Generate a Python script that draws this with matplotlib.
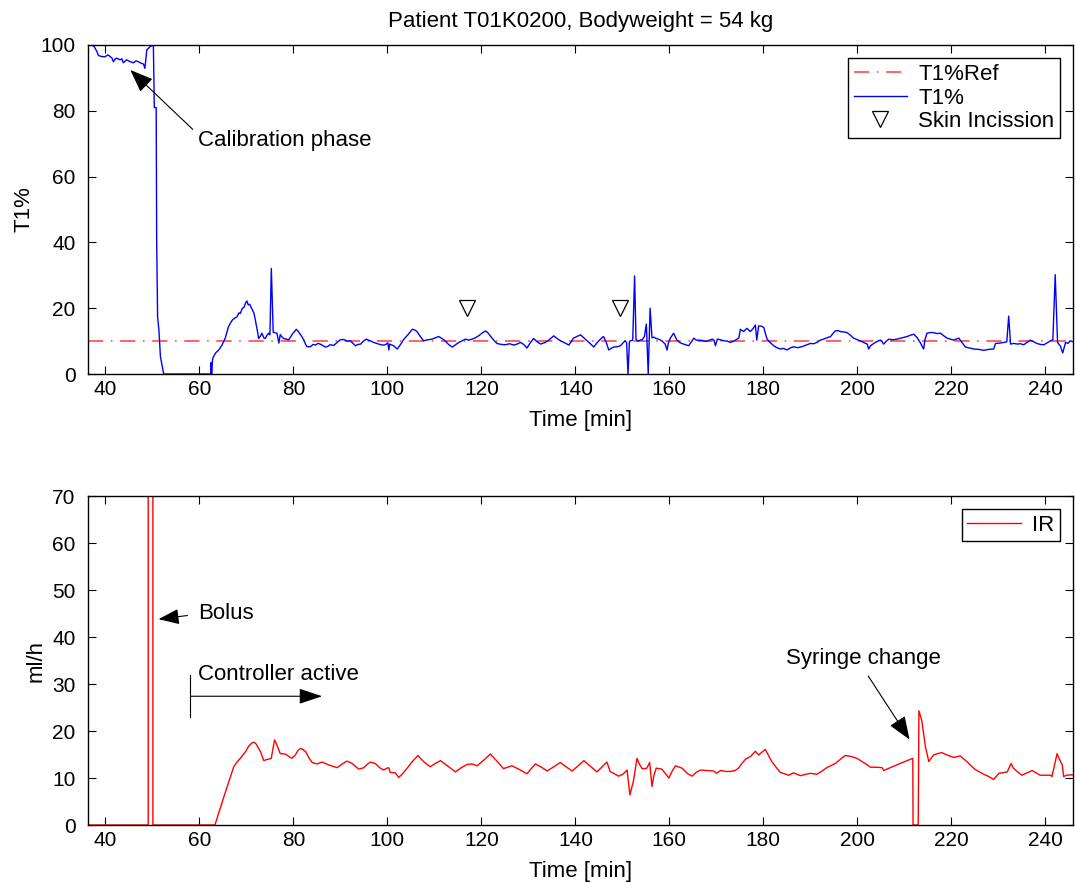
import matplotlib
matplotlib.use("Agg")
import matplotlib.pyplot as plt

plt.rcParams["font.family"] = ["Liberation Sans", "DejaVu Sans"]
plt.rcParams["font.size"] = 16

# ---- data ----
t1_time = [
    37.2, 37.6, 38.2, 38.5, 39.2, 39.9, 40.5, 41.0, 41.4, 41.7, 42.1, 42.4, 43.1, 43.5,
    43.8, 44.5, 45.3, 46.0, 46.5, 47.0, 47.7, 48.1, 48.4, 48.8, 49.5, 50.2, 50.4, 50.8,
    50.9, 51.1, 51.4, 51.7, 52.0, 52.4, 62.4, 62.5, 62.6, 62.8, 63.0, 63.5, 64.1, 64.8,
    65.5, 65.8, 66.2, 66.6, 67.0, 67.5, 68.0, 68.4, 68.7, 69.1, 69.5, 69.8, 70.1, 70.4,
    70.7, 71.2, 71.6, 71.9, 72.3, 72.6, 73.0, 73.3, 73.7, 74.0, 74.4, 74.7, 75.0, 75.3,
    75.7, 76.2, 76.5, 76.9, 77.2, 77.6, 77.9, 78.5, 79.0, 79.5, 79.9, 80.3, 80.6, 81.0,
    81.5, 82.2, 82.6, 82.9, 83.6, 84.2, 84.7, 85.2, 85.7, 86.3, 86.8, 87.2, 87.8, 88.6,
    89.3, 90.0, 90.7, 91.4, 92.1, 92.7, 93.2, 93.8, 94.3, 94.9, 95.5, 96.3, 97.1, 97.9,
    98.9, 99.6, 100.1, 100.3, 100.5, 101.3, 102.1, 102.8, 103.5, 104.4, 105.3, 105.8,
    106.3, 107.0, 107.7, 108.6, 109.5, 110.2, 110.9, 111.6, 112.3, 113.0, 113.8, 114.5,
    115.2, 115.9, 116.6, 117.3, 118.0, 118.7, 119.4, 120.2, 120.9, 121.4, 121.9, 122.6,
    123.3, 124.2, 125.1, 126.0, 126.9, 127.6, 128.3, 129.0, 129.7, 130.4, 131.1, 131.8,
    132.6, 133.6, 134.5, 135.4, 136.1, 136.8, 137.7, 138.6, 139.1, 139.6, 140.3, 141.1,
    141.8, 142.5, 143.2, 143.9, 144.5, 145.0, 145.5, 146.0, 146.6, 147.1, 147.6, 148.2,
    148.9, 149.6, 150.1, 150.6, 150.9, 151.2, 151.5, 151.7, 152.2, 152.6, 152.9, 153.4,
    153.9, 154.2, 154.7, 155.1, 155.5, 155.9, 156.3, 156.7, 157.2, 157.7, 158.4, 159.1,
    159.5, 159.8, 160.2, 160.9, 161.6, 162.3, 163.0, 164.1, 164.7, 165.2, 165.7, 166.2,
    167.0, 167.7, 168.4, 169.1, 169.5, 169.8, 170.2, 170.9, 171.6, 172.3, 173.0, 173.7,
    174.4, 174.8, 175.1, 175.4, 175.8, 176.5, 177.2, 177.8, 178.3, 178.6, 179.0, 179.5,
    180.1, 180.4, 180.8, 181.5, 182.2, 182.9, 183.6, 184.3, 185.0, 185.7, 186.4, 187.3,
    188.2, 189.1, 190.0, 190.7, 191.4, 192.1, 192.8, 193.5, 194.3, 194.8, 195.3, 195.9,
    196.4, 197.1, 197.8, 198.5, 199.2, 199.9, 200.6, 201.3, 202.1, 202.4, 202.8, 203.5,
    204.2, 204.9, 205.3, 205.6, 206.1, 206.7, 207.5, 208.4, 209.5, 210.6, 211.3, 212.0,
    212.7, 213.4, 214.1, 214.4, 214.8, 215.5, 216.2, 216.9, 217.7, 218.4, 219.1, 219.8,
    220.5, 221.0, 221.6, 222.3, 223.0, 223.9, 224.8, 225.8, 226.9, 228.0, 229.0, 229.4,
    230.3, 231.2, 231.8, 232.2, 232.6, 233.3, 234.0, 234.7, 235.4, 236.1, 236.8, 237.5,
    238.2, 238.9, 239.7, 240.4, 241.1, 241.6, 242.1, 242.6, 243.2, 243.7, 244.0, 244.3,
    244.8, 245.3, 245.9,
]
t1_value = [
    100.0, 99.5, 98.0, 96.8, 96.5, 96.4, 97.0, 96.5, 96.0, 94.9, 95.8, 96.0, 95.5, 95.8,
    94.6, 95.5, 94.9, 94.6, 95.2, 94.9, 94.4, 94.2, 92.9, 98.5, 99.5, 100.0, 81.0, 81.0,
    41.0, 17.4, 13.0, 5.3, 3.0, 0.0, 0.0, 3.5, 0.0, 4.5, 5.3, 6.5, 7.3, 8.8,
    10.9, 12.5, 14.4, 15.5, 16.4, 17.0, 17.4, 18.6, 18.4, 19.9, 20.3, 21.5, 22.2, 21.0,
    21.2, 19.7, 18.5, 16.4, 13.4, 10.8, 11.6, 12.4, 11.0, 10.8, 11.8, 12.4, 11.9, 32.1,
    12.7, 12.5, 12.4, 9.4, 12.0, 11.2, 10.8, 10.6, 10.4, 11.5, 12.4, 13.0, 13.6, 13.0,
    12.0, 10.4, 9.0, 8.3, 8.3, 9.0, 8.8, 9.3, 9.1, 8.6, 8.2, 8.3, 8.9, 8.7,
    9.6, 10.4, 10.5, 10.0, 10.1, 9.3, 8.6, 9.0, 9.1, 10.0, 10.6, 10.1, 9.6, 9.2,
    8.8, 8.9, 9.5, 7.3, 9.1, 8.6, 7.6, 9.0, 10.6, 12.0, 13.6, 13.4,
    12.9, 11.4, 10.1, 10.4, 10.6, 11.0, 11.4, 10.8, 10.1, 9.0, 8.2, 8.9,
    9.6, 10.1, 10.6, 10.3, 10.6, 11.0, 11.6, 12.5, 13.1, 12.5, 11.6, 10.3,
    9.3, 9.0, 8.9, 9.2, 8.8, 9.1, 9.6, 9.0, 7.9, 9.5, 10.8, 9.9,
    9.1, 9.6, 10.5, 11.6, 10.8, 10.1, 9.5, 8.8, 9.8, 10.9, 11.4, 11.9,
    11.0, 10.1, 9.2, 8.2, 9.3, 10.1, 10.8, 11.4, 9.5, 7.3, 7.8, 8.2,
    8.3, 8.6, 9.4, 10.1, 9.5, 0.0, 9.8, 10.1, 10.3, 29.8, 10.5, 10.0,
    10.4, 10.3, 11.5, 15.2, 0.0, 20.0, 11.0, 11.2, 10.8, 10.6, 10.1, 9.1,
    7.3, 9.5, 10.9, 12.4, 10.3, 9.5, 9.1, 8.6, 9.8, 10.9, 10.3, 10.3,
    10.2, 9.9, 10.2, 10.6, 10.3, 8.6, 10.6, 10.4, 10.1, 10.0, 9.6, 10.0,
    10.6, 11.0, 13.6, 13.3, 12.9, 13.9, 12.9, 13.8, 14.9, 10.3, 14.6, 14.6,
    14.1, 12.5, 10.6, 9.5, 8.6, 8.0, 7.6, 7.8, 7.3, 7.9, 8.3, 8.0,
    8.3, 8.8, 9.3, 9.2, 9.6, 10.3, 10.6, 11.0, 11.4, 12.3, 13.1, 13.2,
    12.9, 12.8, 12.6, 11.8, 10.9, 10.5, 10.1, 9.6, 9.1, 7.6, 8.6, 9.3,
    9.9, 10.3, 9.7, 9.1, 9.9, 10.6, 10.4, 10.6, 11.0, 11.4, 11.8, 12.1,
    11.1, 9.5, 7.6, 10.5, 12.4, 12.6, 12.6, 12.3, 12.4, 11.6, 10.9, 10.6,
    10.3, 10.6, 10.9, 9.5, 8.2, 7.9, 7.6, 7.5, 7.2, 7.5, 7.6, 9.3,
    9.4, 9.6, 9.8, 17.6, 9.1, 9.3, 9.1, 9.2, 8.9, 9.6, 10.3, 9.8,
    9.3, 9.0, 8.9, 9.5, 10.1, 10.4, 30.2, 9.6, 8.5, 6.4, 8.0, 9.6,
    9.3, 10.1, 9.8,
]
t1_ref = 10
incision_time = [117.0, 149.5]
incision_value = [20, 20]

ir_time = [
    36.3, 49.1, 49.1, 50.1, 50.1, 63.3, 65.2, 67.3, 68.0, 68.7, 69.8, 70.5, 71.2, 71.7,
    72.1, 73.0, 73.7, 74.2, 74.7, 75.3, 75.6, 76.0, 76.5, 77.2, 78.3, 79.0, 79.7, 80.4,
    81.0, 81.5, 82.0, 82.6, 83.3, 84.0, 85.0, 86.1, 87.5, 88.4, 89.3, 90.4, 91.4, 92.5,
    93.3, 93.9, 95.0, 95.8, 96.4, 97.4, 98.5, 99.2, 99.9, 100.3, 100.6, 101.7, 102.4,
    103.3, 104.2, 105.3, 106.5, 107.7, 109.1, 110.2, 111.3, 112.9, 114.5, 115.7, 117.0,
    118.0, 119.1, 120.5, 121.9, 123.3, 124.7, 125.6, 126.5, 128.1, 129.7, 130.6, 131.5,
    132.8, 134.0, 135.4, 136.8, 138.0, 139.3, 140.6, 141.8, 143.2, 144.6, 145.6, 146.7,
    147.4, 148.3, 149.2, 150.1, 151.0, 151.6, 152.0, 152.4, 153.1, 153.6, 154.2, 154.7,
    155.2, 155.8, 156.3, 156.7, 157.2, 158.4, 159.1, 159.9, 160.6, 161.3, 162.7, 163.8,
    164.8, 165.7, 166.6, 168.0, 169.4, 170.0, 170.9, 172.0, 173.0, 174.0, 174.7, 175.5,
    176.2, 177.3, 178.3, 179.0, 180.4, 181.1, 181.8, 182.7, 183.6, 184.5, 185.4, 186.4,
    187.9, 189.0, 190.0, 191.4, 192.5, 193.5, 195.3, 196.4, 197.4, 198.6, 199.9, 201.0,
    202.1, 202.8, 204.0, 205.3, 205.6, 207.0, 208.4, 210.1, 211.8, 211.85, 212.95, 213.1,
    213.7, 214.5, 215.2, 216.2, 217.1, 218.0, 219.1, 220.5, 221.9, 223.3, 224.2, 225.1,
    226.9, 228.0, 229.0, 230.1, 231.9, 232.7, 233.2, 234.1, 235.0, 236.1, 237.2, 238.9,
    240.0, 241.1, 241.4, 242.5, 243.0, 243.6, 243.9, 244.5, 245.9,
]
ir_value = [
    0.0, 0.0, 100.0, 100.0, 0.0, 0.0, 6.0, 12.4, 13.4, 14.2, 15.6, 16.8, 17.5, 17.6,
    17.2, 15.6, 13.7, 13.9, 14.0, 14.2, 16.0, 18.1, 17.0, 15.2, 15.1, 14.6, 14.2, 14.9,
    15.9, 16.3, 16.1, 15.6, 14.3, 13.3, 13.0, 13.4, 12.8, 12.5, 12.2, 13.0, 13.6, 13.1,
    12.4, 11.9, 12.2, 13.0, 13.4, 13.1, 12.1, 11.7, 12.1, 12.2, 11.2, 11.1, 10.1,
    11.0, 12.1, 13.5, 14.8, 13.5, 12.4, 13.1, 13.7, 12.5, 11.3, 12.2, 12.9,
    13.0, 12.6, 13.8, 15.1, 13.6, 12.0, 12.3, 12.6, 11.8, 10.9, 12.0, 13.0,
    12.3, 11.5, 12.4, 13.3, 12.4, 11.5, 12.6, 13.7, 12.5, 11.3, 12.3, 13.4,
    11.4, 10.9, 10.4, 10.8, 11.7, 6.4, 8.0, 9.6, 14.2, 13.0, 12.0, 12.0,
    12.1, 13.3, 8.2, 10.5, 12.1, 11.9, 11.0, 10.0, 11.5, 12.6, 12.1, 11.0,
    10.4, 11.2, 11.7, 11.6, 11.5, 11.0, 11.6, 11.4, 11.4, 11.6, 12.1, 13.2,
    14.0, 14.6, 15.7, 14.9, 16.1, 14.8, 13.5, 12.3, 11.2, 10.9, 10.6, 11.1,
    10.5, 10.8, 11.0, 10.8, 11.5, 12.2, 13.1, 14.0, 14.8, 14.6, 14.2, 13.5,
    12.8, 12.3, 12.3, 12.2, 11.6, 12.2, 12.8, 13.5, 14.2, 0.0, 0.0, 24.3,
    22.3, 16.6, 13.5, 14.9, 15.2, 15.4, 14.9, 14.4, 14.7, 13.5, 12.6, 11.8,
    10.8, 10.3, 9.7, 11.0, 11.3, 13.1, 12.1, 11.3, 10.6, 11.1, 11.6, 10.6,
    10.6, 10.6, 10.3, 15.2, 14.0, 12.8, 10.3, 10.6, 10.7,
]

x_lim = (36.3, 245.9)
x_ticks = list(range(40, 241, 20))


def style_axes(ax):
    ax.set_xlim(*x_lim)
    ax.set_xticks(x_ticks)
    ax.tick_params(direction="in", top=True, right=True, length=6, width=0.8,
                   labelsize=15)
    ax.tick_params(axis="y", pad=9)
    ax.tick_params(axis="x", pad=4)
    for s in ax.spines.values():
        s.set_linewidth(1.0)
    ax.set_xlabel("Time [min]", fontsize=16)
    ax.xaxis.set_label_coords(0.5, -0.11)


def boxed_legend(ax, **kw):
    leg = ax.legend(loc="upper right", fontsize=16, fancybox=False, framealpha=1,
                    edgecolor="black", handlelength=2.4, handletextpad=0.5,
                    borderaxespad=0.6, borderpad=0.25, **kw)
    leg.get_frame().set_linewidth(1.0)
    return leg


fig = plt.figure(figsize=(10.75, 8.84), dpi=100)
ax1 = fig.add_axes([0.0819, 0.5769, 0.9163, 0.3722])
ax2 = fig.add_axes([0.0819, 0.0667, 0.9163, 0.3722])

# top: T1%
ax1.plot(x_lim, [t1_ref, t1_ref], color="#ff3a3a", lw=1.1, ls=(0, (10, 5, 1, 5)),
         label="T1%Ref")
ax1.plot(t1_time, t1_value, color="#0000ff", lw=1.0, label="T1%")
ax1.plot(incision_time, incision_value, ls="none", marker="v", ms=12,
         mfc="white", mec="black", mew=0.9, label="Skin Incission")
ax1.set_ylim(0, 100)
ax1.set_yticks(range(0, 101, 20))
ax1.set_ylabel("T1%", fontsize=16)
ax1.set_title("Patient T01K0200, Bodyweight = 54 kg", fontsize=16, pad=13)
style_axes(ax1)
boxed_legend(ax1, labelspacing=0.12)
ax1.annotate("Calibration phase", xy=(45.3, 92.4), xytext=(59.8, 71.1),
             fontsize=16, va="center", ha="left",
             arrowprops=dict(arrowstyle="-|>,head_length=0.9,head_width=0.35",
                             color="black", lw=0.8, shrinkA=3, shrinkB=0,
                             relpos=(0, 0.75)))

# bottom: IR
ax2.plot(ir_time, ir_value, color="#ff0000", lw=1.0, label="IR")
ax2.set_ylim(0, 70)
ax2.set_yticks(range(0, 71, 10))
ax2.set_ylabel("ml/h", fontsize=16)
style_axes(ax2)
boxed_legend(ax2)

ax2.annotate("Bolus", xy=(51.3, 43.8), xytext=(59.8, 45.1), fontsize=16,
             va="center", ha="left",
             arrowprops=dict(arrowstyle="-|>,head_length=0.8,head_width=0.3",
                             color="black", lw=0.8, shrinkA=6, shrinkB=0,
                             relpos=(0, 0.45)))
ax2.plot([58.1, 58.1], [23.0, 31.9], color="black", lw=0.8)
ax2.annotate("", xy=(86.1, 27.4), xytext=(58.1, 27.4),
             arrowprops=dict(arrowstyle="-|>,head_length=0.9,head_width=0.3",
                             color="black", lw=0.8, shrinkA=0, shrinkB=0))
ax2.text(59.8, 32.0, "Controller active", fontsize=16, va="center", ha="left")
ax2.annotate("Syringe change", xy=(211.1, 18.2), xytext=(201.3, 35.5),
             fontsize=16, va="center", ha="center",
             arrowprops=dict(arrowstyle="-|>,head_length=0.9,head_width=0.35",
                             color="black", lw=0.8, shrinkA=4, shrinkB=0,
                             relpos=(0.5, 0)))

fig.savefig("out.png", dpi=100)
